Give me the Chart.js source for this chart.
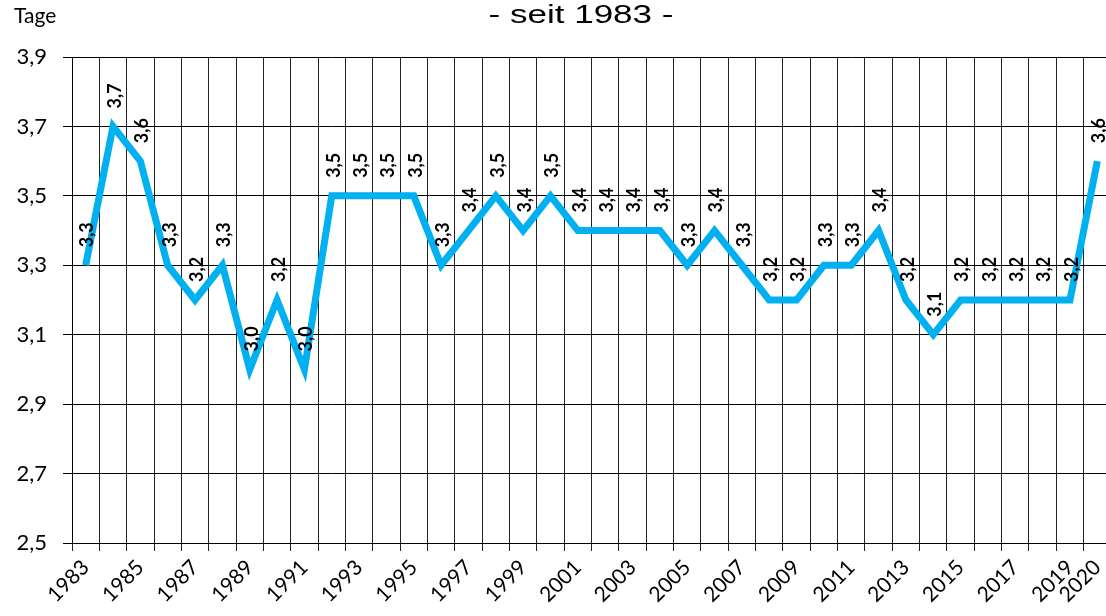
<!doctype html>
<html lang="de">
  <head>
    <meta charset="UTF-8" />
    <script src="https://cdn.jsdelivr.net/npm/chart.js"></script>
    <title>Tage - seit 1983</title>
    <style>
      html, body {
        margin: 0;
        padding: 0;
        background: #fff;
        overflow: hidden;
      }
      #wrap {
        position: relative;
        width: 1106px;
        height: 616px;
        overflow: hidden;
      }
    </style>
  </head>
  <body>
    <div id="wrap">
      <canvas id="myChart" width="1120" height="616"></canvas>
    </div>

    <script>
      const years = [
        "1983", "1984", "1985", "1986", "1987", "1988", "1989", "1990", "1991", "1992",
        "1993", "1994", "1995", "1996", "1997", "1998", "1999", "2000", "2001", "2002",
        "2003", "2004", "2005", "2006", "2007", "2008", "2009", "2010", "2011", "2012",
        "2013", "2014", "2015", "2016", "2017", "2018", "2019", "2020"
      ];
      const tage = [
        3.3, 3.7, 3.6, 3.3, 3.2, 3.3, 3.0, 3.2, 3.0, 3.5,
        3.5, 3.5, 3.5, 3.3, 3.4, 3.5, 3.4, 3.5, 3.4, 3.4,
        3.4, 3.4, 3.3, 3.4, 3.3, 3.2, 3.2, 3.3, 3.3, 3.4,
        3.2, 3.1, 3.2, 3.2, 3.2, 3.2, 3.2, 3.6
      ];
      const yMin = 2.5;
      const yMax = 3.9;
      const yStep = 0.2;
      const titleText = "- seit 1983 -";
      const unitText = "Tage";

      const fmt = (v) => v.toFixed(1).replace(".", ",");

      // value labels, rotated, above each point
      const valueLabels = {
        id: "valueLabels",
        afterDatasetsDraw(chart) {
          const ctx = chart.ctx;
          const meta = chart.getDatasetMeta(0);
          ctx.save();
          ctx.fillStyle = "#000";
          ctx.font = "bold 18px Lato";
          ctx.textAlign = "left";
          ctx.textBaseline = "middle";
          meta.data.forEach((pt, i) => {
            ctx.save();
            ctx.translate(pt.x + 2, pt.y - 18);
            ctx.rotate(-Math.PI / 2);
            ctx.fillText(fmt(tage[i]), 0, 0);
            ctx.restore();
          });
          ctx.restore();
        },
      };

      const headerTexts = {
        id: "headerTexts",
        afterDraw(chart) {
          const ctx = chart.ctx;
          ctx.save();
          ctx.fillStyle = "#000";
          ctx.textBaseline = "alphabetic";
          ctx.font = "21px Lato";
          ctx.textAlign = "left";
          ctx.fillText(unitText, 14, 23);
          // title is drawn a bit wide, like in the original
          ctx.font = "25px 'Liberation Sans'";
          ctx.textAlign = "center";
          ctx.translate(581, 23);
          ctx.scale(1.4, 1);
          ctx.fillText(titleText, 0, 0);
          ctx.restore();
        },
      };

      const ctx = document.getElementById("myChart").getContext("2d");
      new Chart(ctx, {
        type: "line",
        data: {
          labels: years,
          datasets: [
            {
              data: tage,
              borderColor: "#00B0F0",
              borderWidth: 7,
              borderJoinStyle: "miter",
              borderCapStyle: "butt",
              pointRadius: 0,
              tension: 0,
              fill: false,
            },
          ],
        },
        options: {
          responsive: false,
          animation: false,
          layout: { padding: { top: 57, right: 9, left: 0, bottom: 0 } },
          plugins: {
            legend: { display: false },
            tooltip: { enabled: false },
          },
          scales: {
            x: {
              offset: true,
              afterFit: (s) => { s.height = 73; },
              grid: {
                offset: true,
                color: "#222",
                lineWidth: 1,
                tickLength: 8,
                drawTicks: true,
              },
              border: { color: "#000", width: 1 },
              ticks: {
                autoSkip: false,
                minRotation: 45,
                maxRotation: 45,
                padding: 4,
                color: "#000",
                font: { family: "Lato", size: 21 },
                callback: function (value, index) {
                  if (index % 2 === 0 || index === years.length - 1) return years[index];
                  return "";
                },
              },
            },
            y: {
              min: yMin,
              max: yMax,
              afterFit: (s) => { s.width = 72; },
              grid: {
                color: "#000",
                lineWidth: 1,
                tickLength: 9,
              },
              border: { color: "#000", width: 1 },
              ticks: {
                stepSize: yStep,
                padding: 16,
                color: "#000",
                font: { family: "Lato", size: 22 },
                callback: (v) => fmt(v),
              },
            },
          },
        },
        plugins: [valueLabels, headerTexts],
      });
    </script>
  </body>
</html>
